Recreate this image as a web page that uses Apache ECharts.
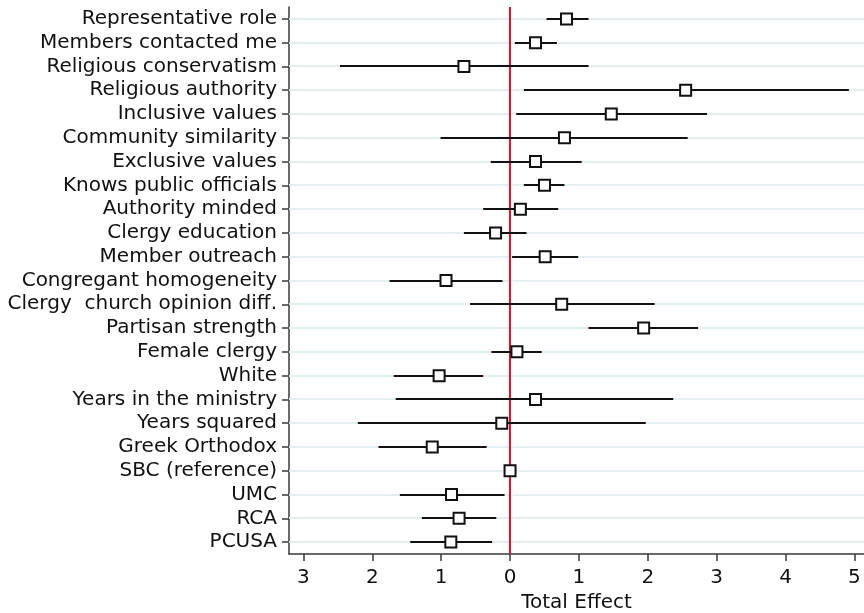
<!DOCTYPE html>
<html>
<head>
<meta charset="utf-8">
<script src="https://cdn.jsdelivr.net/npm/echarts@6/dist/echarts.min.js"></script>
<style>
html,body{margin:0;padding:0;background:#fff;}
#chart{width:864px;height:613px;}
</style>
</head>
<body>
<div id="chart"></div>
<script>
const categories = [
  "Representative role","Members contacted me","Religious conservatism","Religious authority",
  "Inclusive values","Community similarity","Exclusive values","Knows public officials",
  "Authority minded","Clergy education","Member outreach","Congregant homogeneity",
  "Clergy  church opinion diff.","Partisan strength","Female clergy","White",
  "Years in the ministry","Years squared","Greek Orthodox","SBC (reference)","UMC","RCA","PCUSA"
];
const estimates = [0.82,0.37,-0.67,2.55,1.47,0.79,0.37,0.50,0.15,-0.21,0.51,-0.93,0.75,1.94,0.10,-1.03,0.37,-0.12,-1.13,0.00,-0.85,-0.74,-0.86];
const lower = [0.53,0.07,-2.47,0.20,0.09,-1.01,-0.28,0.20,-0.39,-0.67,0.03,-1.75,-0.58,1.14,-0.27,-1.69,-1.66,-2.21,-1.91,0.00,-1.60,-1.28,-1.45];
const upper = [1.14,0.68,1.14,4.92,2.86,2.58,1.04,0.79,0.70,0.24,0.99,-0.11,2.10,2.73,0.46,-0.39,2.37,1.97,-0.34,0.00,-0.08,-0.20,-0.26];
const xTicks = [-3,-2,-1,0,1,2,3,4,5];
const refValue = [0];
const xName = "Total Effect";

const font = "'DejaVu Sans', 'Liberation Sans', Arial, sans-serif";
const X_MIN = -3.21, X_MAX = 5.14;
const chart = echarts.init(document.getElementById('chart'), null, {renderer:'canvas'});

const ciData = categories.map((c,i)=>[lower[i], upper[i], i]);
const gridData = categories.map((c,i)=>[X_MIN, X_MAX, i]);
const ptData = categories.map((c,i)=>[estimates[i], c]);

function segRenderer(stroke, width){
  return function(params, api){
    const idx = api.value(2);
    const cat = categories[idx];
    const p1 = api.coord([api.value(0), cat]);
    const p2 = api.coord([api.value(1), cat]);
    const y = Math.round(p1[1]);
    return {type:'line', shape:{x1:p1[0], y1:y, x2:p2[0], y2:y},
      style:{stroke:stroke, lineWidth:width}};
  };
}

chart.setOption({
  animation:false,
  backgroundColor:'#ffffff',
  grid:{left:289, top:7, right:0, bottom:59, containLabel:false, outerBoundsMode:'none'},
  xAxis:{
    type:'value', min:X_MIN, max:X_MAX,
    axisLine:{show:true, onZero:false, lineStyle:{color:'#3a3a3a', width:1.5}},
    axisTick:{show:true, length:7, customValues:xTicks, lineStyle:{color:'#3a3a3a', width:1.5}},
    axisLabel:{customValues:xTicks, formatter:v=>String(Math.abs(Math.round(v))), color:'#111', fontSize:20, fontFamily:font, margin:14},
    splitLine:{show:false},
    name:xName, nameLocation:'middle', nameGap:37,
    nameTextStyle:{color:'#111', fontSize:20, fontFamily:font}
  },
  yAxis:{
    type:'category', data:categories, inverse:true, boundaryGap:true,
    axisLine:{show:true, onZero:false, lineStyle:{color:'#3a3a3a', width:1.5}},
    axisTick:{show:true, alignWithLabel:true, interval:0, length:7, lineStyle:{color:'#3a3a3a', width:1.5}},
    axisLabel:{color:'#111', fontSize:20, fontFamily:font, margin:12, interval:0},
    splitLine:{show:false}
  },
  series:[
    {
      type:'custom', silent:true, z:1,
      renderItem: segRenderer('#e3eef1', 2),
      encode:{x:[0,1], y:2},
      data: gridData
    },
    {
      type:'custom', silent:true, z:2,
      renderItem: function(params, api){
        const cs = params.coordSys;
        const x = Math.round(api.coord([api.value(0), categories[0]])[0]);
        return {type:'line', shape:{x1:x, y1:cs.y, x2:x, y2:cs.y+cs.height},
          style:{stroke:'#e8102a', lineWidth:2}};
      },
      encode:{x:0},
      data: refValue.map(v=>[v])
    },
    {
      type:'custom', silent:true, z:3,
      renderItem: segRenderer('#111111', 2),
      encode:{x:[0,1], y:2},
      data: ciData
    },
    {
      type:'scatter', z:5, data: ptData, symbol:'rect', symbolSize:11,
      itemStyle:{color:'#ffffff', borderColor:'#111', borderWidth:2, opacity:1}
    }
  ]
});
</script>
</body>
</html>
